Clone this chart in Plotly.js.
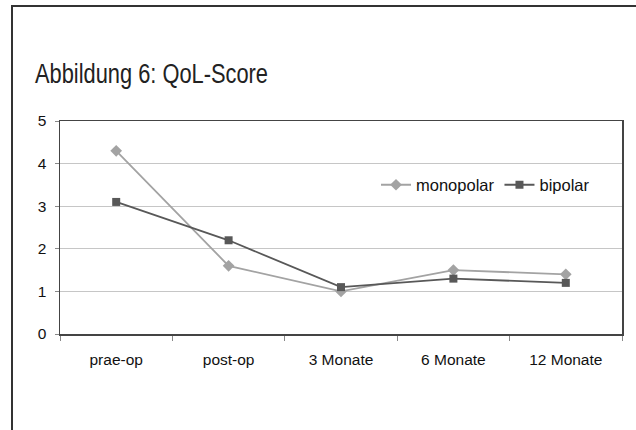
<!DOCTYPE html>
<html>
<head>
<meta charset="utf-8">
<script src="https://cdn.plot.ly/plotly-3.0.1.min.js"></script>
<style>
  html, body { margin: 0; padding: 0; background: #fff; }
  #wrap { position: relative; width: 636px; height: 430px; overflow: hidden; }
  #chart { width: 636px; height: 430px; }
  #frame {
    position: absolute; left: 11px; top: 5px; width: 640px; height: 440px;
    border-left: 2px solid #333; border-top: 2px solid #333;
    pointer-events: none;
  }
</style>
</head>
<body>
<div id="wrap">
  <div id="chart"></div>
  <div id="frame"></div>
</div>
<script>
// QoL-Score over follow-up time points
const categories = ["prae-op", "post-op", "3 Monate", "6 Monate", "12 Monate"];
const monopolar = [4.3, 1.6, 1.0, 1.5, 1.4];
const bipolar = [3.1, 2.2, 1.1, 1.3, 1.2];
const yTicks = [0, 1, 2, 3, 4, 5];

const baseFont = "Liberation Sans, Arial, sans-serif";
const titleLeft = 35;

const traces = [
  {
    x: categories, y: monopolar, name: "monopolar",
    type: "scatter", mode: "lines+markers",
    line: { color: "#a3a3a3", width: 1.8 },
    marker: { symbol: "diamond", size: 9, color: "#a3a3a3" }
  },
  {
    x: categories, y: bipolar, name: "bipolar",
    type: "scatter", mode: "lines+markers",
    line: { color: "#585858", width: 1.8 },
    marker: { symbol: "square", size: 8, color: "#585858" }
  }
];

const layout = {
  width: 636, height: 430,
  margin: { l: 60, r: 14, t: 121, b: 96 },
  paper_bgcolor: "#fff", plot_bgcolor: "#fff",
  font: { family: baseFont, size: 15, color: "#111" },
  title: {
    text: "Abbildung 6: QoL-Score",
    font: { family: baseFont, size: 28, color: "#222" },
    xref: "container", yref: "container",
    x: titleLeft / 636, xanchor: "left",
    y: 1 - 73 / 430, yanchor: "middle"
  },
  xaxis: {
    type: "category", range: [-0.5, 4.5],
    tickson: "boundaries", ticks: "outside", ticklen: 5, tickcolor: "#888",
    ticklabelstandoff: 11,
    showline: true, linecolor: "#444", linewidth: 1.5, mirror: true,
    showgrid: false, zeroline: false,
    tickfont: { family: baseFont, size: 15.5, color: "#111" },
    fixedrange: true
  },
  yaxis: {
    range: [0, 5], tickvals: yTicks, ticktext: yTicks.map(String),
    ticks: "outside", ticklen: 4, tickcolor: "#888",
    ticklabelstandoff: 5,
    showline: true, linecolor: "#444", linewidth: 1.5, mirror: true,
    showgrid: true, gridcolor: "#c6c6c6", gridwidth: 1,
    zeroline: false,
    tickfont: { family: baseFont, size: 15.5, color: "#111" },
    fixedrange: true
  },
  legend: {
    orientation: "h",
    x: (376 - 60) / 562, xanchor: "left",
    y: (334 - 185) / 213, yanchor: "middle",
    bgcolor: "rgba(0,0,0,0)",
    font: { family: baseFont, size: 16.5, color: "#111" },
    itemwidth: 30, tracegroupgap: 0
  },
  showlegend: true
};

Plotly.newPlot("chart", traces, layout, { displayModeBar: false, staticPlot: true })
  .then(function (gd) {
    // narrow the heading horizontally, anchored at its left edge
    const t = gd.querySelector(".gtitle");
    if (t) {
      t.setAttribute("transform",
        "translate(" + titleLeft + ",0) scale(0.78,1) translate(" + (-titleLeft) + ",0)");
    }
  });
</script>
</body>
</html>
